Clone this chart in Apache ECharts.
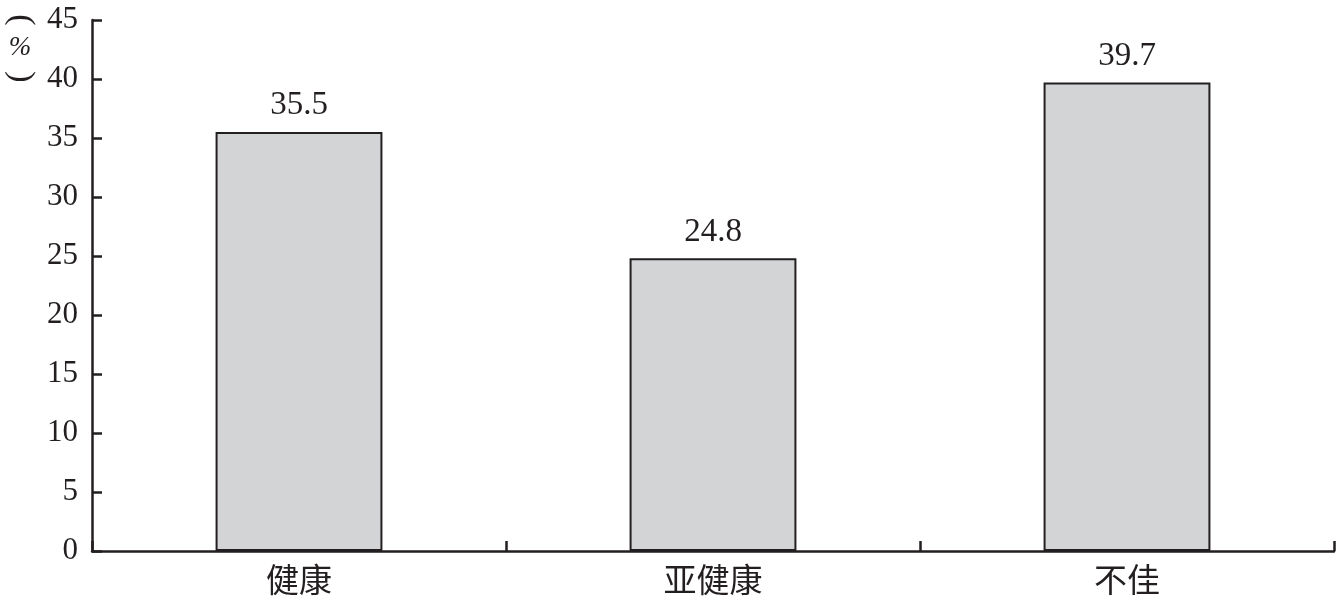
<!DOCTYPE html>
<html><head><meta charset="utf-8">
<script src="https://cdn.jsdelivr.net/npm/echarts@6/dist/echarts.min.js"></script>
<style>html,body{margin:0;padding:0;background:#fff}#c{width:1338px;height:604px}</style>
</head><body><div id="c"></div>
<script>
const categories = ['健康', '亚健康', '不佳'];
const values = [35.5, 24.8, 39.7];
const yTicks = [0, 5, 10, 15, 20, 25, 30, 35, 40, 45];

const serif = '"Liberation Serif", "Times New Roman", "Noto Sans CJK SC", serif';
const chart = echarts.init(document.getElementById('c'));
chart.setOption({
  animation: false,
  backgroundColor: '#fff',
  grid: { left: 92, right: 4, top: 20, bottom: 53, containLabel: false },
  xAxis: {
    type: 'category',
    data: categories,
    axisLine: { lineStyle: { color: '#231f20', width: 2.5 } },
    axisTick: { show: true, inside: true, length: 10, alignWithLabel: false, lineStyle: { color: '#231f20', width: 2.5 } },
    axisLabel: { color: '#231f20', fontSize: 33, fontFamily: serif, margin: 16 }
  },
  yAxis: {
    type: 'value',
    min: yTicks[0], max: yTicks[yTicks.length - 1], interval: 5,
    splitLine: { show: false },
    axisLine: { show: true, lineStyle: { color: '#231f20', width: 2.5 } },
    axisTick: { show: true, inside: true, length: 10, lineStyle: { color: '#231f20', width: 2.5 } },
    axisLabel: { color: '#231f20', fontSize: 31, fontFamily: serif, margin: 14 }
  },
  graphic: [
    { type: 'text', x: 21, y: 20, rotation: -Math.PI / 2, silent: true,
      style: { text: '(', fill: '#231f20', font: '34px ' + serif, align: 'center', verticalAlign: 'middle' } },
    { type: 'text', x: 20, y: 48, silent: true,
      style: { text: '%', fill: '#231f20', font: 'italic 27px ' + serif, align: 'center', verticalAlign: 'middle' } },
    { type: 'text', x: 21, y: 77, rotation: -Math.PI / 2, silent: true,
      style: { text: ')', fill: '#231f20', font: '34px ' + serif, align: 'center', verticalAlign: 'middle' } }
  ],
  series: [{
    type: 'bar',
    data: values,
    barWidth: '40.3%',
    itemStyle: { color: '#d3d4d6', borderColor: '#231f20', borderWidth: 2 },
    label: { show: true, position: 'top', distance: 10, color: '#231f20', fontSize: 33, fontFamily: serif,
      formatter: p => p.value.toFixed(1) }
  }]
});
</script></body></html>
